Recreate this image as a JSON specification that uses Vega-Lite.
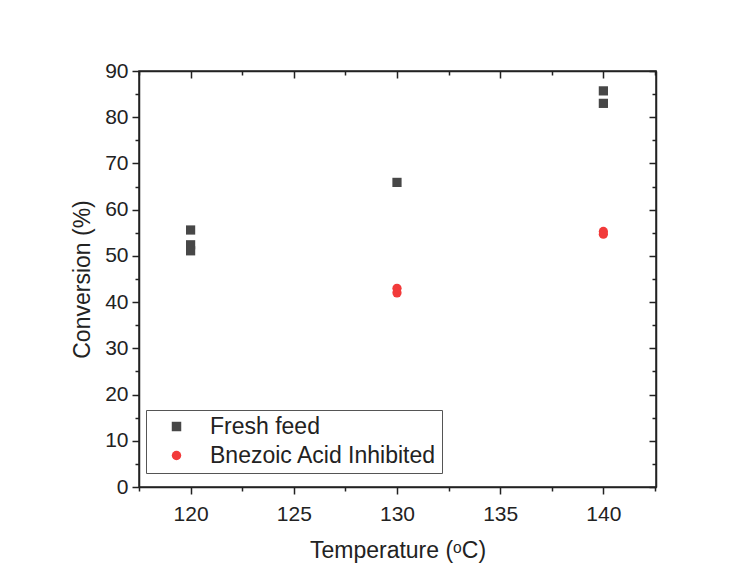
{
  "$schema": "https://vega.github.io/schema/vega-lite/v6.json",
  "autosize": "none",
  "width": 517,
  "height": 416,
  "padding": {"left": 139, "top": 71, "right": 88, "bottom": 88},
  "background": "white",
  "config": {
    "view": {"stroke": "#222", "strokeWidth": 1.5},
    "font": "Liberation Sans",
    "legend": {
      "title": null, "orient": "none", "legendX": 7, "legendY": 339,
      "labelFontSize": 23, "labelColor": "#222", "symbolSize": 90, "symbolOpacity": 1,
      "strokeColor": "#555", "padding": 5, "rowPadding": 5, "labelOffset": 22,
      "symbolOffset": 14, "labelLimit": 400, "symbolStrokeWidth": 0
    }
  },
  "data": {
    "values": [
      {"T": 120, "conv": 55.6, "series": "Fresh feed"},
      {"T": 120, "conv": 52.4, "series": "Fresh feed"},
      {"T": 120, "conv": 51.1, "series": "Fresh feed"},
      {"T": 130, "conv": 65.9, "series": "Fresh feed"},
      {"T": 140, "conv": 85.7, "series": "Fresh feed"},
      {"T": 140, "conv": 83.0, "series": "Fresh feed"},
      {"T": 130, "conv": 43.0, "series": "Bnezoic Acid Inhibited"},
      {"T": 130, "conv": 42.0, "series": "Bnezoic Acid Inhibited"},
      {"T": 140, "conv": 55.3, "series": "Bnezoic Acid Inhibited"},
      {"T": 140, "conv": 54.7, "series": "Bnezoic Acid Inhibited"}
    ]
  },
  "layer": [
    {
      "mark": {"type": "point", "filled": true, "opacity": 1, "size": 85},
      "encoding": {
        "x": {
          "field": "T", "type": "quantitative",
          "scale": {"domain": [117.5, 142.55], "nice": false, "zero": false},
          "axis": {
            "orient": "bottom", "title": "Temperature (ᵒC)",
            "values": [117.5, 120, 122.5, 125, 127.5, 130, 132.5, 135, 137.5, 140, 142.5],
            "labelExpr": "datum.value % 5 === 0 ? datum.label : ''",
            "grid": false, "domainColor": "#222", "domainWidth": 1.5,
            "tickColor": "#222", "tickWidth": 1.5,
            "tickSize": {"condition": {"test": "datum.value % 5 === 0", "value": 7}, "value": 4},
            "labelFontSize": 21, "labelColor": "#222", "labelPadding": 9,
            "titleFontSize": 23, "titleFontWeight": "normal", "titleColor": "#222", "titlePadding": 15
          }
        },
        "y": {
          "field": "conv", "type": "quantitative",
          "scale": {"domain": [0, 90], "nice": false},
          "axis": {
            "orient": "left", "title": "Conversion (%)",
            "values": [0, 5, 10, 15, 20, 25, 30, 35, 40, 45, 50, 55, 60, 65, 70, 75, 80, 85, 90],
            "labelExpr": "datum.value % 10 === 0 ? datum.label : ''",
            "grid": false, "domainColor": "#222", "domainWidth": 1.5,
            "tickColor": "#222", "tickWidth": 1.5,
            "tickSize": {"condition": {"test": "datum.value % 10 === 0", "value": 7}, "value": 4},
            "labelFontSize": 21, "labelColor": "#222", "labelPadding": 4,
            "titleFontSize": 23, "titleFontWeight": "normal", "titleColor": "#222", "titlePadding": 10
          }
        },
        "shape": {
          "field": "series", "type": "nominal",
          "scale": {"domain": ["Fresh feed", "Bnezoic Acid Inhibited"], "range": ["square", "circle"]}
        },
        "color": {
          "field": "series", "type": "nominal",
          "scale": {"domain": ["Fresh feed", "Bnezoic Acid Inhibited"], "range": ["#474747", "#f23a3a"]}
        }
      }
    },
    {
      "mark": {"type": "point", "opacity": 0},
      "encoding": {
        "x": {
          "field": "T", "type": "quantitative",
          "scale": {"domain": [117.5, 142.55], "nice": false, "zero": false},
          "axis": {
            "orient": "top", "title": null,
            "values": [117.5, 120, 122.5, 125, 127.5, 130, 132.5, 135, 137.5, 140, 142.5],
            "labels": false, "grid": false, "domainColor": "#222", "domainWidth": 1.5,
            "tickColor": "#222", "tickWidth": 1.5,
            "tickSize": {"condition": {"test": "datum.value % 5 === 0", "value": -7}, "value": -4}
          }
        },
        "y": {
          "field": "conv", "type": "quantitative",
          "scale": {"domain": [0, 90], "nice": false},
          "axis": {
            "orient": "right", "title": null,
            "values": [0, 5, 10, 15, 20, 25, 30, 35, 40, 45, 50, 55, 60, 65, 70, 75, 80, 85, 90],
            "labels": false, "grid": false, "domainColor": "#222", "domainWidth": 1.5,
            "tickColor": "#222", "tickWidth": 1.5,
            "tickSize": {"condition": {"test": "datum.value % 10 === 0", "value": -7}, "value": -4}
          }
        }
      }
    }
  ],
  "resolve": {"axis": {"x": "independent", "y": "independent"}}
}
